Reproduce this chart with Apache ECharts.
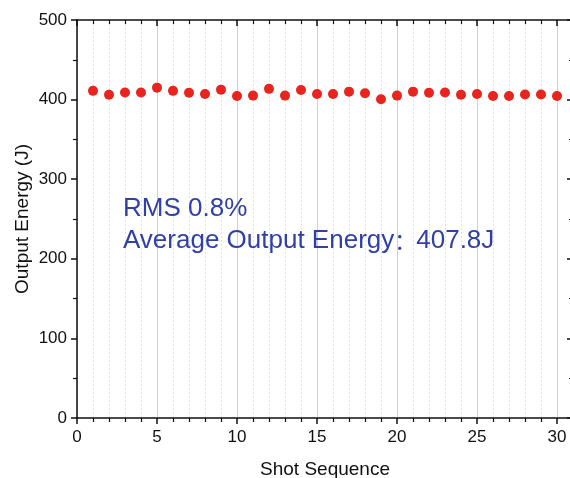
<!DOCTYPE html>
<html>
<head>
<meta charset="utf-8">
<script src="https://cdn.jsdelivr.net/npm/echarts@6/dist/echarts.min.js"></script>
<style>
  html, body { margin: 0; padding: 0; background: #fff; }
  #chart { width: 570px; height: 478px; }
</style>
</head>
<body>
<div id="chart"></div>
<script>
// Shot number and measured output energy (J) for each shot
const shots = [1,2,3,4,5,6,7,8,9,10,11,12,13,14,15,16,17,18,19,20,21,22,23,24,25,26,27,28,29,30];
const energy = [411,406,409,409,415,411,408.5,407,412.5,404.5,405,413.5,405,412,407,
                407,410,408,400.5,405,410,408.5,409,406,407,404.5,404.5,406.5,406.5,404.5];
const rmsText = 'RMS 0.8%';
const avgLabel = 'Average Output Energy';
const avgValue = '407.8J';

const FONT = '"Liberation Sans", Arial, "Noto Sans CJK SC", sans-serif';
const AXIS_COLOR = '#111';
const NOTE_COLOR = '#3040a8';

const chart = echarts.init(document.getElementById('chart'));
chart.setOption({
  animation: false,
  backgroundColor: '#fff',
  textStyle: { fontFamily: FONT },
  grid: { left: 77, top: 20, width: 496, height: 398, containLabel: false, outerBoundsMode: 'none' },
  xAxis: [
    {
      type: 'value', min: 0, max: 31, interval: 5,
      name: 'Shot Sequence', nameLocation: 'middle', nameGap: 42, nameMoveOverlap: false,
      nameTextStyle: { fontSize: 19, color: '#111', fontFamily: FONT },
      axisLine: { show: true, lineStyle: { color: AXIS_COLOR, width: 1.5 } },
      axisTick: { show: true, inside: false, length: 6, lineStyle: { color: AXIS_COLOR, width: 1.5 } },
      minorTick: { show: true, splitNumber: 5, length: 4, lineStyle: { color: AXIS_COLOR, width: 1.2 } },
      axisLabel: { fontSize: 17, color: '#111', margin: 11, showMaxLabel: false, fontFamily: FONT },
      splitLine: { show: true, lineStyle: { color: '#cfcfcf', width: 1 } },
      minorSplitLine: { show: true, lineStyle: { color: '#e4e4e4', width: 1, type: [2, 2] } }
    },
    {
      type: 'value', min: 0, max: 31, interval: 5, position: 'top',
      axisLine: { show: true, onZero: false, lineStyle: { color: AXIS_COLOR, width: 1.5 } },
      axisTick: { show: true, inside: true, length: 6, lineStyle: { color: AXIS_COLOR, width: 1.5 } },
      minorTick: { show: true, splitNumber: 5, length: 4, lineStyle: { color: AXIS_COLOR, width: 1.2 } },
      axisLabel: { show: false },
      splitLine: { show: false }
    }
  ],
  yAxis: [
    {
      type: 'value', min: 0, max: 500, interval: 100,
      name: 'Output Energy (J)', nameLocation: 'middle', nameGap: 45, nameRotate: 90, nameMoveOverlap: false,
      nameTextStyle: { fontSize: 19, color: '#111', fontFamily: FONT },
      axisLine: { show: true, lineStyle: { color: AXIS_COLOR, width: 1.5 } },
      axisTick: { show: true, inside: false, length: 6, lineStyle: { color: AXIS_COLOR, width: 1.5 } },
      minorTick: { show: true, splitNumber: 2, length: 4, lineStyle: { color: AXIS_COLOR, width: 1.2 } },
      axisLabel: { fontSize: 17, color: '#111', margin: 10, fontFamily: FONT },
      splitLine: { show: false }
    },
    {
      type: 'value', min: 0, max: 500, interval: 100, position: 'right',
      axisLine: { show: true, onZero: false, lineStyle: { color: AXIS_COLOR, width: 1.5 } },
      axisTick: { show: true, inside: true, length: 6, lineStyle: { color: AXIS_COLOR, width: 1.5 } },
      minorTick: { show: true, splitNumber: 2, length: 4, lineStyle: { color: AXIS_COLOR, width: 1.2 } },
      axisLabel: { show: false },
      splitLine: { show: false }
    }
  ],
  series: [
    {
      type: 'scatter',
      symbol: 'circle',
      symbolSize: 10,
      itemStyle: { color: '#e8241e', opacity: 1 },
      data: shots.map((s, i) => [s, energy[i]]),
      z: 5
    }
  ],
  graphic: [
    {
      type: 'text', x: 123, y: 209, z: 100,
      style: { text: rmsText, fontSize: 26, fill: NOTE_COLOR, fontFamily: FONT, verticalAlign: 'middle' }
    },
    {
      type: 'text', x: 123, y: 241, z: 100,
      style: {
        text: '{t|' + avgLabel + '}{c|：}{t|' + avgValue + '}',
        verticalAlign: 'middle',
        fill: NOTE_COLOR,
        rich: {
          t: { fontSize: 26, fill: NOTE_COLOR, fontFamily: FONT },
          c: { fontSize: 22, fill: NOTE_COLOR, fontFamily: '"Noto Sans CJK SC", sans-serif' }
        }
      }
    }
  ]
});
</script>
</body>
</html>
